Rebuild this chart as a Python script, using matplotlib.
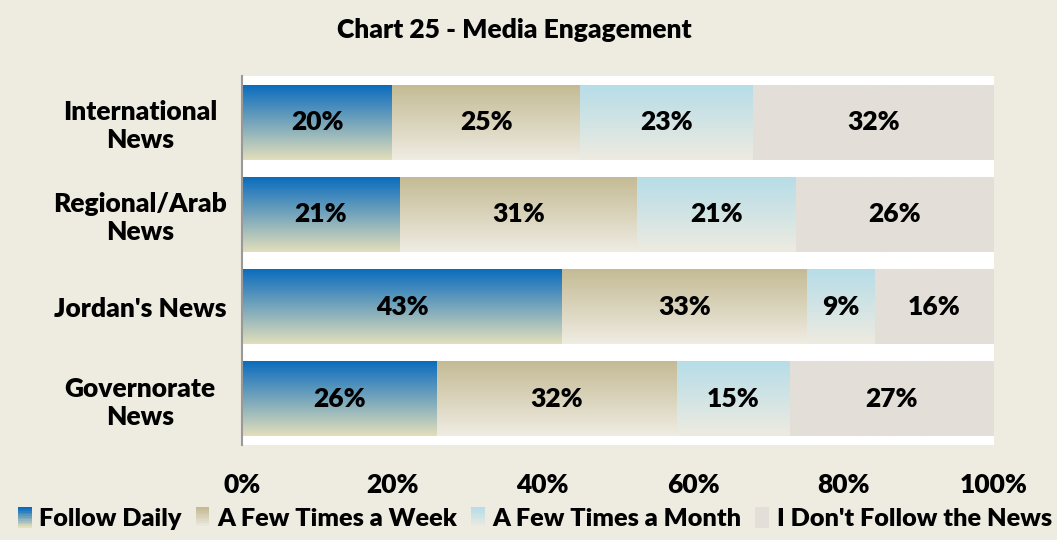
import numpy as np
import matplotlib
matplotlib.use("Agg")
import matplotlib.pyplot as plt
from matplotlib.colors import LinearSegmentedColormap, to_rgb
from matplotlib.legend_handler import HandlerBase
from matplotlib.patches import Rectangle

categories = ["International\nNews", "Regional/Arab\nNews", "Jordan's News", "Governorate\nNews"]
series_names = ["Follow Daily", "A Few Times a Week", "A Few Times a Month", "I Don't Follow the News"]
follow_daily = [20.0, 21.0, 42.6, 25.9]
few_week = [25.0, 31.5, 32.6, 32.0]
few_month = [23.0, 21.2, 9.0, 15.0]
dont_follow = [32.0, 26.3, 15.8, 27.1]
labels_txt = [["20%", "21%", "43%", "26%"],
              ["25%", "31%", "33%", "32%"],
              ["23%", "21%", "9%", "15%"],
              ["32%", "26%", "16%", "27%"]]
xticks = [0, 20, 40, 60, 80, 100]
xtick_labels = ["0%", "20%", "40%", "60%", "80%", "100%"]

grads = [("#0A6CBE", "#E2DFBA"), ("#C4BB95", "#EFECE2"),
         ("#B6DDE8", "#EEEBE0"), ("#E3DFD8", "#E3DFD8")]

BG = "#EEEBE0"
FONT = ["Lato", "DejaVu Sans"]
plt.rcParams['font.family'] = FONT
W = "heavy"
FS = 19
LFS = 18.2

fig = plt.figure(figsize=(10.57, 5.40), dpi=100, facecolor=BG)
ax = fig.add_axes([0.229, 0.176, 0.711, 0.683])
ax.set_facecolor("white")

series = [follow_daily, few_week, few_month, dont_follow]
y = np.arange(len(categories))
left = np.zeros(len(categories))
for si, vals in enumerate(series):
    bars = ax.barh(y, vals, left=left, height=0.81, color="none", edgecolor="none")
    c_top, c_bot = grads[si]
    cmap = LinearSegmentedColormap.from_list("g%d" % si, [c_bot, c_top])
    grad = np.linspace(0, 1, 256).reshape(-1, 1)
    for bi, b in enumerate(bars):
        x0, yb = b.get_x(), b.get_y()
        w, h = b.get_width(), b.get_height()
        ax.imshow(grad, cmap=cmap, aspect="auto", origin="upper",
                  extent=[x0, x0 + w, yb, yb + h], zorder=2, interpolation="bilinear")
        ax.text(x0 + w / 2, yb + h / 2, labels_txt[si][bi], ha="center", va="center",
                fontsize=FS, fontweight=W, color="black", zorder=3)
    left = left + np.array(vals)

ax.set_xlim(0, 100)
ax.set_ylim(len(categories) - 0.5, -0.5)
ax.set_yticks(y)
ax.set_yticklabels(categories, fontsize=FS, fontweight=W, multialignment="center")
ax.set_xticks(xticks)
ax.set_xticklabels(xtick_labels, fontsize=FS, fontweight=W)
ax.tick_params(axis="both", length=0)
ax.tick_params(axis="x", pad=20)
for lbl in ax.get_yticklabels():
    lbl.set_horizontalalignment("center")
ax.tick_params(axis="y", pad=102 * 0.72)
for s in ["top", "right", "bottom"]:
    ax.spines[s].set_visible(False)
ax.spines["left"].set_color("#999999")
ax.spines["left"].set_linewidth(1.5)

fig.text(0.487, 0.944, "Chart 25 - Media Engagement", ha="center", va="center",
         fontsize=FS, fontweight=W)


class GradHandler(HandlerBase):
    def __init__(self, ctop, cbot, n=12):
        super().__init__()
        self.ctop, self.cbot, self.n = to_rgb(ctop), to_rgb(cbot), n

    def create_artists(self, legend, orig_handle, xdescent, ydescent, width, height, fontsize, trans):
        arts = []
        x0 = -xdescent
        hh = height * 1.15
        y0 = -ydescent - (hh - height) / 2
        for i in range(self.n):
            t = i / (self.n - 1)
            c = tuple(self.cbot[k] * (1 - t) + self.ctop[k] * t for k in range(3))
            r = Rectangle((x0, y0 + hh * i / self.n), width, hh / self.n + 0.3,
                          facecolor=c, edgecolor="none", transform=trans)
            arts.append(r)
        return arts


handles = [Rectangle((0, 0), 1, 1) for _ in series_names]
hmap = {h: GradHandler(*grads[i]) for i, h in enumerate(handles)}
fig.legend(handles, series_names, handler_map=hmap, loc="center", bbox_to_anchor=(0.506, 0.038),
           ncol=4, frameon=False, prop={"size": LFS, "weight": W, "family": FONT},
           handlelength=0.55, handletextpad=0.3, columnspacing=0.55, borderpad=0.0)

fig.savefig("out.png", dpi=100, facecolor=BG)
